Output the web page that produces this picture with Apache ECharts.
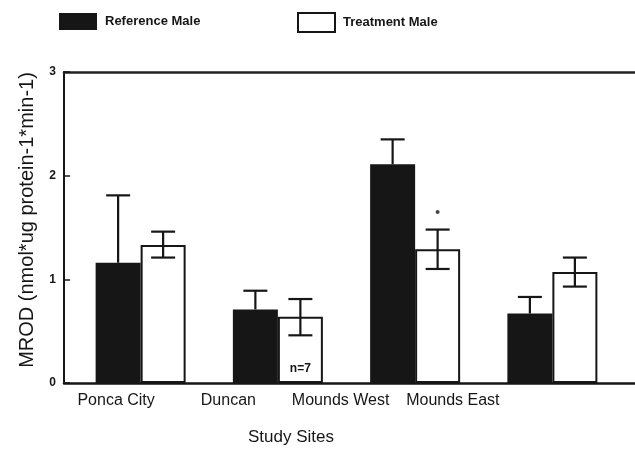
<!DOCTYPE html>
<html>
<head>
<meta charset="utf-8">
<script src="https://cdn.jsdelivr.net/npm/echarts@6/dist/echarts.min.js"></script>
<style>
html,body{margin:0;padding:0;background:#fff;}
#chart{width:635px;height:452px;}
</style>
</head>
<body>
<div id="chart"></div>
<script>
const categories = ['Ponca City', 'Duncan', 'Mounds West', 'Mounds East'];
const refMean = [1.16, 0.71, 2.11, 0.67];
const refHigh = [1.81, 0.89, 2.35, 0.83];
const trtMean = [1.33, 0.64, 1.29, 1.07];
const trtHigh = [1.46, 0.81, 1.48, 1.21];
const trtLow = [1.21, 0.46, 1.10, 0.93];
const sigMarks = [null, null, 1.65, null];
const nLabels = ['', 'n=7', '', ''];
const yTicks = [0, 1, 2, 3];
const seriesNames = ['Reference Male', 'Treatment Male'];

const INK = '#161616';
const BAR_W = 45;
const CAP = 24;

const chart = echarts.init(document.getElementById('chart'));

function errRender(offset, showLow) {
  return function (params, api) {
    const i = api.value(0);
    const hi = api.coord([i, api.value(2)]);
    const lo = api.coord([i, api.value(1)]);
    const cx = hi[0] + offset;
    const st = { stroke: INK, lineWidth: 2.2 };
    const kids = [
      { type: 'line', shape: { x1: cx, y1: hi[1], x2: cx, y2: lo[1] }, style: st },
      { type: 'line', shape: { x1: cx - CAP / 2, y1: hi[1], x2: cx + CAP / 2, y2: hi[1] }, style: st }
    ];
    if (showLow) {
      kids.push({ type: 'line', shape: { x1: cx - CAP / 2, y1: lo[1], x2: cx + CAP / 2, y2: lo[1] }, style: st });
    }
    return { type: 'group', children: kids };
  };
}

const legendText = {
  fontFamily: '"Liberation Sans", Arial, sans-serif',
  fontWeight: 'bold',
  fontSize: 13,
  color: INK,
  padding: [2, 0, 0, 3]
};

const option = {
  animation: false,
  backgroundColor: '#fff',
  title: {
    text: 'Study Sites',
    left: 291,
    top: 429,
    textAlign: 'center',
    padding: 0,
    textStyle: { fontFamily: '"Liberation Sans", Arial, sans-serif', fontWeight: 'normal', fontSize: 17, color: INK }
  },
  legend: [
    {
      left: 54, top: 8, itemWidth: 38, itemHeight: 17, icon: 'rect', selectedMode: false,
      data: [{ name: seriesNames[0], itemStyle: { color: INK, borderWidth: 0 } }],
      textStyle: legendText
    },
    {
      left: 292, top: 7, itemWidth: 37, itemHeight: 19, icon: 'rect', selectedMode: false,
      data: [{ name: seriesNames[1], itemStyle: { color: '#fff', borderColor: INK, borderWidth: 2 } }],
      textStyle: legendText
    }
  ],
  grid: [
    { left: 72, right: 14, top: 72, bottom: 69 },
    { left: 60, width: 449, top: 72, bottom: 69 },
    { left: 64, right: 0, top: 72, bottom: 69 }
  ],
  xAxis: [
    { type: 'category', gridIndex: 0, data: categories, show: false },
    {
      type: 'category', gridIndex: 1, data: categories,
      axisLine: { show: false }, axisTick: { show: false },
      axisLabel: { margin: 10, fontSize: 16, color: INK, fontFamily: '"Liberation Sans", Arial, sans-serif', interval: 0 }
    },
    {
      type: 'value', gridIndex: 2, min: 0, max: 1, position: 'bottom',
      axisLine: { show: true, onZero: false, lineStyle: { color: INK, width: 2.5 } },
      axisTick: { show: false }, axisLabel: { show: false }, splitLine: { show: false }
    },
    {
      type: 'value', gridIndex: 2, min: 0, max: 1, position: 'top',
      axisLine: { show: true, onZero: false, lineStyle: { color: '#222', width: 2.5 } },
      axisTick: { show: false }, axisLabel: { show: false }, splitLine: { show: false }
    }
  ],
  yAxis: [
    { type: 'value', gridIndex: 0, min: 0, max: 3, interval: 1, show: false },
    { type: 'value', gridIndex: 1, min: 0, max: 3, interval: 1, show: false },
    {
      type: 'value', gridIndex: 2, min: yTicks[0], max: yTicks[yTicks.length - 1], interval: 1,
      name: 'MROD (nmol*ug protein-1*min-1)',
      nameLocation: 'middle', nameGap: 27,
      nameTextStyle: { fontFamily: '"Liberation Sans", Arial, sans-serif', fontSize: 20, color: INK, padding: [0, 0, 0, 15] },
      axisLine: { show: true, onZero: false, lineStyle: { color: INK, width: 2 } },
      axisTick: { show: true, inside: true, length: 6, lineStyle: { color: INK, width: 1.5 } },
      axisLabel: {
        margin: 8, fontSize: 12, fontWeight: 'bold', color: INK,
        fontFamily: '"Liberation Sans", Arial, sans-serif',
        formatter: function (v) { return yTicks.indexOf(v) >= 0 ? String(v) : ''; }
      },
      splitLine: { show: false }
    }
  ],
  series: [
    {
      name: seriesNames[0], type: 'bar', xAxisIndex: 0, yAxisIndex: 0,
      barWidth: BAR_W, barGap: '0%',
      itemStyle: { color: INK },
      data: refMean
    },
    {
      name: seriesNames[1], type: 'bar', xAxisIndex: 0, yAxisIndex: 0,
      barWidth: BAR_W, barGap: '0%',
      itemStyle: { color: '#fff', borderColor: INK, borderWidth: 2 },
      data: trtMean.map(function (v, i) {
        return nLabels[i] ? {
          value: v,
          label: {
            show: true, position: 'insideBottom', distance: 8, formatter: nLabels[i],
            fontSize: 12, fontWeight: 'bold', color: INK,
            fontFamily: '"Liberation Sans", Arial, sans-serif'
          }
        } : v;
      })
    },
    {
      name: 'refErr', type: 'custom', xAxisIndex: 0, yAxisIndex: 0, z: 5,
      renderItem: errRender(-BAR_W / 2, false),
      data: refMean.map(function (v, i) { return [i, v, refHigh[i]]; })
    },
    {
      name: 'trtErr', type: 'custom', xAxisIndex: 0, yAxisIndex: 0, z: 5,
      renderItem: errRender(BAR_W / 2, true),
      data: trtMean.map(function (v, i) { return [i, trtLow[i], trtHigh[i]]; })
    },
    {
      name: 'sig', type: 'scatter', xAxisIndex: 0, yAxisIndex: 0,
      symbol: 'circle', symbolSize: 4, symbolOffset: [BAR_W / 2, 0],
      itemStyle: { color: INK },
      data: sigMarks.map(function (v, i) { return v == null ? null : [i, v]; }).filter(function (d) { return d; })
    }
  ]
};

chart.setOption(option);
</script>
</body>
</html>
